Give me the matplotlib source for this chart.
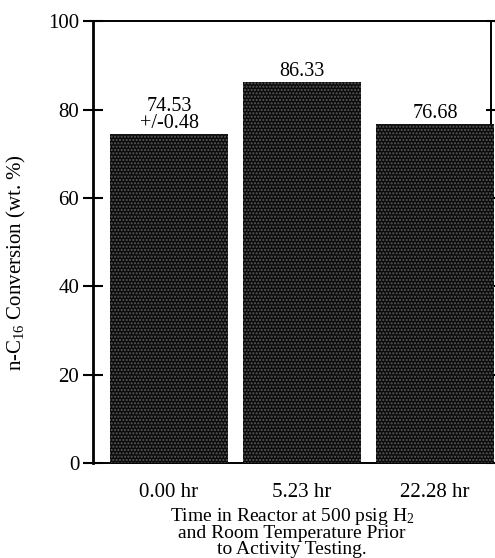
import matplotlib
matplotlib.use("Agg")
import matplotlib.pyplot as plt
import numpy as np

# conversion after soaking in the reactor for each hold time
hold_times = ["0.00 hr", "5.23 hr", "22.28 hr"]
conversion = [74.53, 86.33, 76.68]
bar_labels = ["74.53\n+/-0.48", "86.33", "76.68"]
y_ticks = [0, 20, 40, 60, 80, 100]

plt.rcParams["font.family"] = ["Liberation Serif", "DejaVu Serif"]
plt.rcParams["mathtext.fontset"] = "custom"
plt.rcParams["mathtext.rm"] = "Liberation Serif"
plt.rcParams["mathtext.it"] = "Liberation Serif:italic"
plt.rcParams["hatch.linewidth"] = 1.0

fig = plt.figure(figsize=(4.95, 5.58), dpi=100)
ax = fig.add_axes([0.188, 0.170, 0.804, 0.792])

x = np.arange(len(hold_times))
bars = ax.bar(x, conversion, width=0.887, color="#0c0c0c", edgecolor="#5a5a5a",
              hatch=".....", linewidth=0, zorder=3, clip_on=False)

for xi, val, lab in zip(x, conversion, bar_labels):
    ax.text(xi, val + 0.2, lab, ha="center", va="bottom", fontsize=14.5,
            linespacing=0.86, zorder=4)

ax.set_xlim(-0.571, 2.421)
ax.set_ylim(0, 100)
ax.set_yticks(y_ticks)
ax.set_xticks(x)
ax.set_xticklabels(hold_times, fontsize=15)
ax.tick_params(axis="x", length=0, pad=14)
ax.tick_params(axis="y", direction="inout", length=14, width=1.5,
               labelsize=15, pad=3, right=True)
for t in ax.yaxis.get_major_ticks():
    t.tick2line.set_markersize(7)

ax.spines["left"].set_linewidth(2.0)
for side in ["top", "right", "bottom"]:
    ax.spines[side].set_linewidth(1.4)

ax.set_ylabel("n-C$_{16}$ Conversion (wt. %)", fontsize=15)
ax.yaxis.set_label_coords(-0.163, 0.455)
ax.set_xlabel("Time in Reactor at 500 psig H$_2$\nand Room Temperature Prior\nto Activity Testing.",
              fontsize=14, linespacing=0.88, labelpad=3)

fig.savefig("out.png", dpi=100)
